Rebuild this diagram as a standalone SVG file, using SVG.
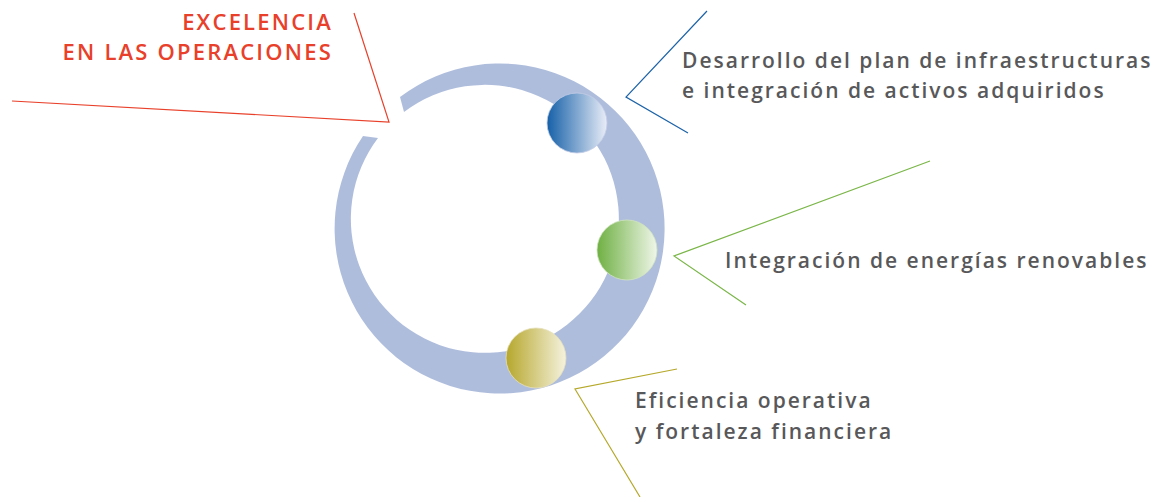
<svg xmlns="http://www.w3.org/2000/svg" width="1160" height="497" viewBox="0 0 1160 497">
<style>
.lbl{font-family:"Open Sans","Noto Sans","Liberation Sans",sans-serif;font-weight:600;font-size:21px;letter-spacing:2px;fill:#58585a}
.red{font-family:"Open Sans","Noto Sans","Liberation Sans",sans-serif;font-weight:600;font-size:22px;letter-spacing:2.2px;fill:#e8402a}
.ln{fill:none;stroke-width:1.2}
.sph{stroke-width:0.8}
</style>
<defs>
<linearGradient id="gB" x1="0" y1="0" x2="1" y2="0"><stop offset="0" stop-color="#1560a8"/><stop offset="1" stop-color="#e9edf7"/></linearGradient>
<linearGradient id="gG" x1="0" y1="0" x2="1" y2="0"><stop offset="0" stop-color="#6fb043"/><stop offset="1" stop-color="#eff6e8"/></linearGradient>
<linearGradient id="gY" x1="0" y1="0" x2="1" y2="0"><stop offset="0" stop-color="#b6a72c"/><stop offset="1" stop-color="#f5f2de"/></linearGradient>
</defs>
<rect width="1160" height="497" fill="#ffffff"/>
<g id="ring">
<path d="M400,97 A165,165 0 1 1 363,136 L378,138 A134,134 0 1 0 404,112 Z" fill="#afbddd"/>
</g>
<g id="connectors">
<polyline class="ln" stroke="#e8402a" points="354,13 389,122 12,101"/>
<polyline class="ln" stroke="#1d63a8" points="707,11 626,97 688,133"/>
<polyline class="ln" stroke="#7ab648" points="930,161 674,256 746,305"/>
<polyline class="ln" stroke="#b5a82a" points="677,369 575,389 640,497"/>
</g>
<g id="node-excelencia">
<text class="red" text-anchor="end" x="333" y="30">EXCELENCIA</text>
<text class="red" text-anchor="end" x="333" y="60">EN LAS OPERACIONES</text>
</g>
<g id="node-infraestructuras">
<circle class="sph" cx="577" cy="123" r="30" fill="url(#gB)" stroke="#c4cde6"/>
<text class="lbl" x="682" y="68">Desarrollo del plan de infraestructuras</text>
<text class="lbl" x="682" y="98">e integración de activos adquiridos</text>
</g>
<g id="node-renovables">
<circle class="sph" cx="627" cy="250" r="30" fill="url(#gG)" stroke="#cfe3c0"/>
<text class="lbl" x="725" y="268">Integración de energías renovables</text>
</g>
<g id="node-eficiencia">
<circle class="sph" cx="536" cy="358" r="30" fill="url(#gY)" stroke="#e6e0bb"/>
<text class="lbl" x="635" y="408">Eficiencia operativa</text>
<text class="lbl" x="635" y="439">y fortaleza financiera</text>
</g>
</svg>
